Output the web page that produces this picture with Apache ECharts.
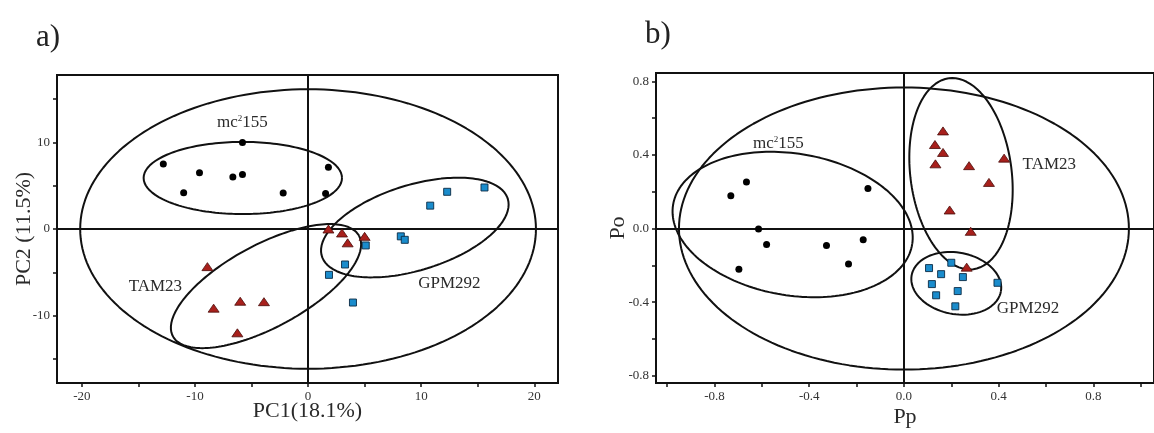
<!DOCTYPE html>
<html><head><meta charset="utf-8">
<script src="https://cdn.jsdelivr.net/npm/echarts@6/dist/echarts.min.js"></script>
<style>html,body{margin:0;padding:0;background:#fff}#c{width:1154px;height:433px}</style>
</head><body><div id="c"></div>
<script>
// ---------- Panel a data (PC1, PC2) ----------
const aMc155 = [[-5.8,10.0],[-12.8,7.5],[-9.6,6.5],[-6.65,6.0],[-5.8,6.3],[-11.0,4.2],[-2.2,4.15],[1.8,7.15],[1.55,4.1]];
const aTAM23 = [[-8.9,-4.35],[-8.35,-9.15],[-6.0,-8.35],[-3.9,-8.4],[-6.25,-12.0],[1.8,0.0],[3.0,-0.46],[3.5,-1.6],[5.0,-0.85]];
const aGPM292 = [[15.6,4.8],[12.3,4.3],[10.8,2.7],[8.2,-0.85],[8.55,-1.25],[5.1,-1.9],[3.27,-4.1],[1.85,-5.3],[3.97,-8.5]];
// ---------- Panel b data (Pp, Po) ----------
const bMc155 = [[-0.731,0.179],[-0.665,0.253],[-0.614,-0.002],[-0.58,-0.087],[-0.697,-0.222],[-0.327,-0.092],[-0.234,-0.193],[-0.172,-0.061],[-0.152,0.218]];
const bTAM23 = [[0.165,0.531],[0.131,0.457],[0.165,0.414],[0.133,0.352],[0.275,0.342],[0.423,0.383],[0.359,0.251],[0.193,0.101],[0.282,-0.015],[0.265,-0.21]];
const bGPM292 = [[0.106,-0.215],[0.2,-0.186],[0.157,-0.248],[0.249,-0.264],[0.118,-0.302],[0.227,-0.34],[0.136,-0.363],[0.217,-0.423],[0.395,-0.295]];
// ---------- Confidence ellipses: [cx, cy, ux, uy, vx, vy] (centre + conjugate half-axes) ----------
const aEllAll = [0, 0, 20.15, 0, 0, 16.15];
const aEllMc = [-5.77, 5.9, 8.77, 0, 0, 4.17];
const aEllTam = [-3.72, -6.6, 8.23, 5.81, 1.74, -4.2];
const aEllGpm = [9.44, 0.17, 8.22, 3.32, 1.11, -4.71];
const bEllAll = [0, 0, 0.95, 0, 0, 0.767];
const bEllMc = [-0.47, 0.022, 0.505, -0.106, -0.046, -0.381];
const bEllTam = [0.241, 0.298, -0.052, 0.519, 0.212, 0.037];
const bEllGpm = [0.221, -0.298, 0.1886, -0.0428, -0.0217, -0.165];
// ---------- Group labels ----------
const aLabels = [{name:'mc{s|2}155', value:[-5.8,12.3]},{name:'TAM23', value:[-13.5,-6.7]},{name:'GPM292', value:[12.5,-6.3]}];
const bLabels = [{name:'mc{s|2}155', value:[-0.53,0.46]},{name:'TAM23', value:[0.614,0.35]},{name:'GPM292', value:[0.524,-0.434]}];
// ---------- Ticks ----------
const aXTicks = [-20,-15,-10,-5,0,5,10,15,20];
const aXLabels = [-20,-10,0,10,20];
const aYTicks = [-15,-10,-5,0,5,10,15];
const aYLabels = [-10,0,10];
const bXTicks = [-1.0,-0.8,-0.6,-0.4,-0.2,0,0.2,0.4,0.6,0.8,1.0];
const bXLabels = [-0.8,-0.4,0,0.4,0.8];
const bYTicks = [-0.8,-0.6,-0.4,-0.2,0,0.2,0.4,0.6,0.8];
const bYLabels = [-0.8,-0.4,0,0.4,0.8];

const SERIF = '"Liberation Serif","DejaVu Serif",serif';
const INK = '#111';

function ellipse(p){
  const pts = [];
  for(let i=0;i<=180;i++){
    const t = i/180*2*Math.PI;
    pts.push([p[0]+p[2]*Math.cos(t)+p[4]*Math.sin(t), p[1]+p[3]*Math.cos(t)+p[5]*Math.sin(t)]);
  }
  return pts;
}
function axis(type, gi, min, max, ticks, labels, fmt, name, gap){
  return {
    type:'value', gridIndex:gi, min:min, max:max, name:name, nameLocation:'middle', nameGap:gap,
    nameMoveOverlap:false,
    nameTextStyle:{fontFamily:SERIF, fontSize:22, color:'#2a2a2a'},
    axisLine:{show:false, onZero:false},
    splitLine:{show:false},
    axisTick:{show:true, length:4, customValues:ticks, lineStyle:{color:INK, width:1.5}},
    axisLabel:{show:true, customValues:labels, margin:7, formatter:fmt, fontFamily:SERIF, fontSize:13, color:'#333'}
  };
}
const fmtA = v => String(Math.round(v));
const fmtB = v => (Math.abs(v)<1e-9?0:v).toFixed(1);

function ellSeries(p, xi){
  return {type:'line', xAxisIndex:xi, yAxisIndex:xi, data:ellipse(p), showSymbol:false, symbol:'none', smooth:false,
    lineStyle:{color:INK, width:2}, silent:true, z:2, animation:false};
}
function ptSeries(data, xi, kind){
  const s = {type:'scatter', xAxisIndex:xi, yAxisIndex:xi, data:data, z:5, animation:false, silent:true};
  if(kind==='dot'){ s.symbol='circle'; s.symbolSize=7; s.itemStyle={color:'#000', opacity:1}; }
  if(kind==='tri'){ s.symbol='triangle'; s.symbolSize=[11,8]; s.itemStyle={color:'#a8201c', borderColor:'#4a0c0a', borderWidth:0.8, opacity:1}; }
  if(kind==='sq'){ s.symbol='rect'; s.symbolSize=7; s.itemStyle={color:'#1a8ccc', borderColor:'#0a2a44', borderWidth:0.9, opacity:1}; }
  return s;
}
function labelSeries(data, xi){
  return {type:'scatter', xAxisIndex:xi, yAxisIndex:xi, data:data, symbolSize:0, silent:true, animation:false, z:6,
    itemStyle:{opacity:1},
    label:{show:true, position:'inside', formatter:p=>p.name, fontFamily:SERIF, fontSize:17, color:'#2a2a2a', opacity:1,
      rich:{s:{fontFamily:SERIF, fontSize:9, color:'#2a2a2a', verticalAlign:'top', padding:[0,0,8,0]}}}};
}
function zeroLines(xi){
  return {type:'line', xAxisIndex:xi, yAxisIndex:xi, data:[], silent:true, animation:false,
    markLine:{symbol:['none','none'], silent:true, animation:false, label:{show:false},
      lineStyle:{color:INK, width:2, type:'solid', opacity:1}, data:[{xAxis:0},{yAxis:0}]}, z:3};
}

const chart = echarts.init(document.getElementById('c'), null, {renderer:'canvas'});
chart.setOption({
  backgroundColor:'#fff',
  animation:false,
  title:[
    {text:'a)', left:31, top:17, textStyle:{fontFamily:SERIF, fontSize:31, fontWeight:'normal', color:'#222'}},
    {text:'b)', left:640, top:14, textStyle:{fontFamily:SERIF, fontSize:31, fontWeight:'normal', color:'#222'}}
  ],
  grid:[
    {left:57, top:75, width:501, height:308, show:true, borderColor:INK, borderWidth:2, backgroundColor:'transparent'},
    {left:656, top:73, width:510, height:311, show:true, borderColor:INK, borderWidth:2, backgroundColor:'transparent'}
  ],
  xAxis:[
    axis('x',0,-22.2,22.1,aXTicks,aXLabels,fmtA,'PC1(18.1%)',17),
    axis('x',1,-1.047,1.056,bXTicks,bXLabels,fmtB,'Pp',23)
  ],
  yAxis:[
    axis('y',0,-17.8,17.8,aYTicks,aYLabels,fmtA,'PC2 (11.5%)',22),
    axis('y',1,-0.84,0.846,bYTicks,bYLabels,fmtB,'Po',27)
  ],
  series:[
    zeroLines(0), zeroLines(1),
    ellSeries(aEllAll,0), ellSeries(aEllMc,0), ellSeries(aEllTam,0), ellSeries(aEllGpm,0),
    ellSeries(bEllAll,1), ellSeries(bEllMc,1), ellSeries(bEllTam,1), ellSeries(bEllGpm,1),
    ptSeries(aMc155,0,'dot'), ptSeries(aTAM23,0,'tri'), ptSeries(aGPM292,0,'sq'),
    ptSeries(bMc155,1,'dot'), ptSeries(bTAM23,1,'tri'), ptSeries(bGPM292,1,'sq'),
    labelSeries(aLabels,0), labelSeries(bLabels,1)
  ]
});
</script></body></html>
